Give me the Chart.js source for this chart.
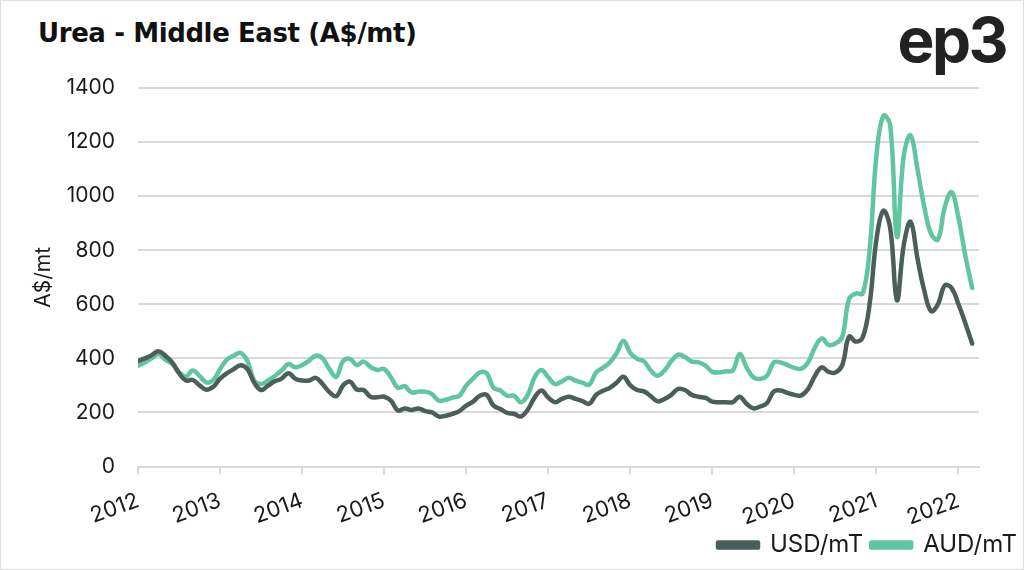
<!DOCTYPE html>
<html>
<head>
<meta charset="utf-8">
<script src="https://cdn.jsdelivr.net/npm/chart.js@4"></script>
<style>
  html, body { margin: 0; padding: 0; background: #fff; }
  #wrap { position: relative; width: 1024px; height: 570px; box-sizing: border-box; border: 1px solid #dedede; overflow: hidden; }
  #title { position: absolute; left: 37px; top: 17px; font: bold 26px 'DejaVu Sans', sans-serif; color: #111; letter-spacing: -0.4px; }
  #logo { position: absolute; right: 17px; top: 1px; font: bold 62px 'Inter', sans-serif; color: #222; letter-spacing: -2.5px; }
  canvas { position: absolute; left: 0; top: 0; }
</style>
</head>
<body>
<div id="wrap">
  <div id="title">Urea - Middle East (A$/mt)</div>
  <div id="logo">ep3</div>
  <canvas id="ureaChart" width="1024" height="570"></canvas>
</div>
<script>
// monthly prices, Jan 2012 .. Mar 2022
const startYear = 2012;
const yearTicks = [2012, 2013, 2014, 2015, 2016, 2017, 2018, 2019, 2020, 2021, 2022];

const usd = [
  390, 400, 412, 426, 410, 385, 345, 318, 320, 300, 284, 295,   // 2012
  325, 345, 360, 375, 360, 310, 283, 299, 315, 325, 345, 325,   // 2013
  318, 318, 328, 305, 275, 260, 300, 314, 285, 283, 258, 256,   // 2014
  258, 244, 207, 215, 209, 215, 205, 200, 185, 188, 195, 205,   // 2015
  225, 240, 262, 265, 225, 213, 198, 195, 185, 210, 255, 281,   // 2016
  255, 238, 250, 258, 250, 242, 232, 265, 280, 291, 310, 332,   // 2017
  300, 283, 278, 260, 241, 250, 265, 287, 283, 265, 258, 254,   // 2018
  240, 238, 238, 238, 258, 232, 215, 222, 235, 278, 281, 272,   // 2019
  265, 263, 287, 335, 367, 350, 348, 375, 480, 462, 478, 600,   // 2020
  840, 946, 884, 615, 820, 905, 770, 650, 575, 600, 670, 660,   // 2021
  600, 530, 455                                                 // 2022
];

const aud = [
  373, 385, 400, 416, 395, 379, 350, 332, 355, 335, 311, 320,   // 2012
  360, 395, 410, 420, 390, 318, 305, 318, 335, 355, 379, 367,   // 2013
  375, 391, 410, 400, 360, 332, 390, 398, 375, 388, 368, 357,   // 2014
  361, 330, 291, 297, 274, 277, 277, 268, 244, 247, 255, 262,   // 2015
  299, 325, 348, 345, 291, 281, 262, 262, 238, 265, 330, 357,   // 2016
  330, 305, 315, 328, 318, 310, 303, 348, 365, 385, 419, 465,   // 2017
  420, 398, 389, 355, 336, 355, 390, 414, 405, 388, 385, 373,   // 2018
  350, 348, 352, 355, 416, 367, 330, 324, 336, 385, 385, 375,   // 2019
  365, 362, 385, 440, 474, 450, 455, 480, 620, 640, 640, 800,   // 2020
  1150, 1297, 1265, 850, 1150, 1225, 1100, 960, 860, 840, 960, 1015, // 2021
  920, 780, 660                                                 // 2022
];

const toPoints = arr => arr.map((v, i) => ({ x: startYear + i / 12, y: v }));

const txt = '#1a1a1a';
const gridCol = '#d9d9d9';
const font = { family: 'Inter, sans-serif', size: 21 };

const ctx = document.getElementById('ureaChart').getContext('2d');
const ureaChart = new Chart(ctx, {
    type: 'line',
    data: {
        datasets: [
            {
                label: 'USD/mT',
                data: toPoints(usd),
                borderColor: '#4b5e5c',
                backgroundColor: '#4b5e5c',
                borderWidth: 4.5,
                pointRadius: 0,
                tension: 0.4,
                borderCapStyle: 'round',
                borderJoinStyle: 'round'
            },
            {
                label: 'AUD/mT',
                data: toPoints(aud),
                borderColor: '#5fc6a0',
                backgroundColor: '#5fc6a0',
                borderWidth: 4.5,
                pointRadius: 0,
                tension: 0.4,
                borderCapStyle: 'round',
                borderJoinStyle: 'round'
            }
        ]
    },
    options: {
        responsive: false,
        animation: false,
        layout: {
            padding: { left: 30, right: 0, top: 87, bottom: 4 }
        },
        scales: {
            x: {
                type: 'linear',
                min: 2012,
                max: 2022.25,
                afterBuildTicks: axis => { axis.ticks = yearTicks.map(v => ({ value: v })); },
                afterFit: axis => { axis.height -= 19; },
                ticks: {
                    color: txt,
                    font: { family: 'Inter, sans-serif', size: 22 },
                    minRotation: 20,
                    maxRotation: 20,
                    padding: 13,
                    callback: v => String(v)
                },
                grid: {
                    drawOnChartArea: false,
                    color: gridCol,
                    lineWidth: 2,
                    tickLength: 8
                },
                border: { display: true, color: gridCol, width: 2 }
            },
            y: {
                min: 0,
                max: 1400,
                ticks: {
                    stepSize: 200,
                    color: txt,
                    font: font,
                    padding: 23,
                    callback: v => String(v)
                },
                grid: {
                    color: gridCol,
                    lineWidth: 2,
                    drawTicks: false
                },
                border: { display: false },
                title: {
                    display: true,
                    text: 'A$/mt',
                    color: txt,
                    font: font,
                    padding: { top: 0, bottom: 10 }
                },
                afterFit: axis => { axis.width = 107; }
            },
            // empty right-hand axis, only keeps the plot off the right edge
            yRight: {
                position: 'right',
                display: true,
                ticks: { display: false },
                grid: { display: false, drawTicks: false },
                border: { display: false },
                afterFit: axis => { axis.width = 46; }
            }
        },
        plugins: {
            legend: {
                position: 'bottom',
                align: 'end',
                labels: {
                    color: txt,
                    font: { family: 'Inter, sans-serif', size: 24 },
                    boxWidth: 40,
                    boxHeight: 5,
                    padding: 8
                }
            },
            tooltip: { enabled: false }
        }
    }
});
</script>
</body>
</html>
